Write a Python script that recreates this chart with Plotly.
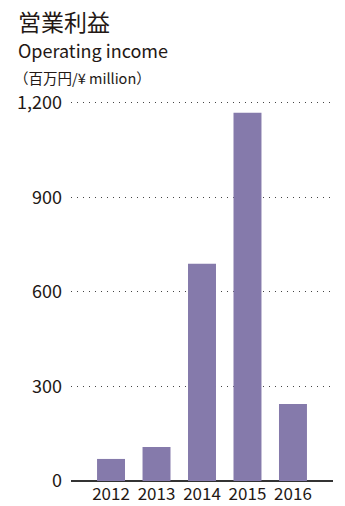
import plotly.graph_objects as go

years = ["2012", "2013", "2014", "2015", "2016"]
income = [70, 108, 689, 1168, 244]
y_ticks = [0, 300, 600, 900, 1200]
y_tick_labels = ["0", "300", "600", "900", "1,200"]

W, H = 345, 506
Y_TOP = 1212
L, R, B = 71, 12, 25
T = 103 - round(378 * (Y_TOP - 1200) / 1200)
PH = H - T - B
PW = W - L - R
TXT = "#231815"
FONT = "Noto Sans CJK JP"

def px(xp):
    return (xp - L) / PW

def py(yp):
    return (H - B - yp) / PH

fig = go.Figure(go.Bar(x=list(range(len(years))), y=income, marker_color="#857AAB",
                       width=0.615, marker_line_width=0))

fig.update_layout(
    width=W, height=H, margin=dict(l=L, r=R, t=T, b=B),
    paper_bgcolor="white", plot_bgcolor="white", showlegend=False,
    font=dict(family=FONT, color=TXT),
    xaxis=dict(range=[-0.88, 4.88], tickmode="array", tickvals=list(range(len(years))),
               ticktext=years, showgrid=False, zeroline=False, showline=False,
               ticks="", tickfont=dict(size=17, color=TXT), ticklabelstandoff=1,
               automargin=False),
    yaxis=dict(range=[0, Y_TOP], tickmode="array", tickvals=y_ticks, ticktext=y_tick_labels,
               showgrid=True, gridcolor="#444", griddash="1px,5px", gridwidth=1.2,
               zeroline=True, zerolinecolor="#333", zerolinewidth=1.5, showline=False,
               ticks="", tickfont=dict(size=18, color=TXT), ticklabelstandoff=8,
               automargin=False),
    annotations=[
        dict(text="営業利益", x=px(16), y=py(21), xref="paper", yref="paper",
             xanchor="left", yanchor="middle", showarrow=False, font=dict(size=23, color=TXT)),
        dict(text="Operating income", x=px(16), y=py(50), xref="paper", yref="paper",
             xanchor="left", yanchor="middle", showarrow=False, font=dict(size=18, color=TXT)),
        dict(text="（百万円/¥ million）", x=px(12), y=py(78), xref="paper", yref="paper",
             xanchor="left", yanchor="middle", showarrow=False, font=dict(size=14.5, color=TXT)),
    ],
)

fig.write_html("out.html")
